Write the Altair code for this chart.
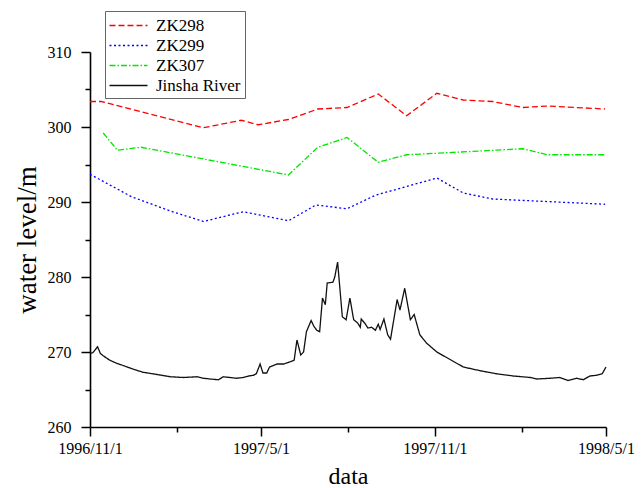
import altair as alt
import pandas as pd

series_names = ["ZK298", "ZK299", "ZK307", "Jinsha River"]
series_colors = ["#ff0000", "#0000ff", "#00e600", "#111111"]
series_dashes = [[6, 3], [2, 2.5], [6, 2, 1.5, 2], [1, 0]]

zk298_dates = ["1996-11-01", "1996-11-13", "1997-03-01", "1997-04-10", "1997-04-28",
               "1997-05-30", "1997-06-30", "1997-07-31", "1997-09-02", "1997-10-02",
               "1997-11-03", "1997-12-01", "1998-01-01", "1998-02-02", "1998-02-28",
               "1998-04-30"]
zk298_level = [303.4, 303.4, 299.9, 300.9, 300.3, 301.0, 302.4, 302.6, 304.4, 301.5,
               304.5, 303.6, 303.4, 302.6, 302.8, 302.4]

zk299_dates = ["1996-11-01", "1996-12-15", "1997-01-25", "1997-03-01", "1997-04-12",
               "1997-05-30", "1997-06-28", "1997-07-31", "1997-08-30", "1997-11-03",
               "1997-12-01", "1998-01-01", "1998-04-30"]
zk299_level = [293.7, 290.7, 288.8, 287.4, 288.7, 287.5, 289.6, 289.1, 290.9, 293.2,
               291.2, 290.4, 289.7]

zk307_dates = ["1996-11-15", "1996-11-30", "1996-12-25", "1997-05-30", "1997-06-30",
               "1997-07-31", "1997-09-02", "1997-10-02", "1997-11-03", "1998-02-02",
               "1998-02-28", "1998-04-30"]
zk307_level = [299.2, 296.9, 297.3, 293.6, 297.3, 298.6, 295.3, 296.3, 296.5, 297.1,
               296.3, 296.3]

# Jinsha River: days after 1996-11-01 and water level
jinsha_day = [0, 3, 8, 11, 14, 21, 28, 35, 46, 56, 71, 85, 99, 113, 120, 127, 136, 141,
              148, 155, 162, 168, 173, 176, 180, 183, 187, 190, 198, 205, 212, 216, 219,
              223, 226, 229, 234, 237, 240, 243, 246, 249, 251, 257, 259, 262, 267, 271,
              275, 279, 283, 286, 287, 291, 294, 298, 302, 305, 307, 311, 315, 318, 325,
              328, 333, 339, 343, 349, 356, 367, 381, 395, 413, 430, 448, 466, 473, 487,
              497, 506, 515, 522, 529, 536, 542, 546]
jinsha_level = [269.8, 269.9, 270.7, 269.8, 269.5, 268.9, 268.5, 268.2, 267.7, 267.3,
                267.0, 266.7, 266.6, 266.7, 266.5, 266.4, 266.3, 266.7, 266.6, 266.5,
                266.6, 266.8, 266.9, 267.1, 268.4, 267.2, 267.2, 268.0, 268.4, 268.4,
                268.7, 268.9, 271.6, 269.6, 270.0, 272.7, 274.2, 273.4, 272.9, 272.7,
                277.2, 276.3, 279.2, 279.3, 280.0, 282.0, 274.7, 274.3, 277.2, 274.3,
                273.9, 273.3, 274.4, 273.8, 273.2, 273.3, 272.9, 273.7, 273.0, 274.4,
                272.3, 271.7, 277.0, 275.6, 278.5, 274.3, 275.0, 272.3, 271.2, 270.0,
                269.0, 268.0, 267.5, 267.1, 266.8, 266.6, 266.4, 266.5, 266.6, 266.2,
                266.5, 266.3, 266.8, 266.9, 267.1, 268.0]

start = pd.Timestamp("1996-11-01")
frames = [
    pd.DataFrame({"series": "ZK298", "date": pd.to_datetime(zk298_dates), "level": zk298_level}),
    pd.DataFrame({"series": "ZK299", "date": pd.to_datetime(zk299_dates), "level": zk299_level}),
    pd.DataFrame({"series": "ZK307", "date": pd.to_datetime(zk307_dates), "level": zk307_level}),
    pd.DataFrame({"series": "Jinsha River",
                  "date": start + pd.to_timedelta(jinsha_day, unit="D"),
                  "level": jinsha_level}),
]
df = pd.concat(frames, ignore_index=True)

FONT = "Liberation Serif"

x_ticks = [alt.DateTime(year=y, month=m, date=1) for (y, m) in
           [(1996, 11), (1997, 2), (1997, 5), (1997, 8), (1997, 11), (1998, 2), (1998, 5)]]
y_ticks = list(range(260, 311, 5))

legend_cfg = dict(
    orient="none", legendX=15, legendY=-41, title=None,
    strokeColor="#666666", fillColor="white", padding=4,
    labelFont=FONT, labelFontSize=17, labelColor="black",
    symbolType="M-2,0H2", symbolSize=361, symbolStrokeWidth=1.3,
    symbolOffset=9, labelOffset=17, rowPadding=1,
)

chart = alt.Chart(df).mark_line(strokeWidth=1.3).encode(
    x=alt.X("date:T",
            scale=alt.Scale(domain=[x_ticks[0], x_ticks[-1]], nice=False),
            axis=alt.Axis(values=x_ticks,
                          labelExpr="month(datum.value) % 6 == 4 ? timeFormat(datum.value, '%Y/%-m/%-d') : ''",
                          tickSize={"condition": {"test": "month(datum.value) % 6 == 4", "value": 9}, "value": 5},
                          labelPadding=4, titlePadding=8, labelOverlap=False, labelFlush=False),
            title="data"),
    y=alt.Y("level:Q",
            scale=alt.Scale(domain=[260, 310], nice=False, zero=False),
            axis=alt.Axis(values=y_ticks,
                          labelExpr="datum.value % 10 === 0 ? datum.label : ''",
                          tickSize={"condition": {"test": "datum.value % 10 === 0", "value": 9}, "value": 5},
                          labelPadding=10, titlePadding=6, titleFontSize=27, labelOverlap=False),
            title="water level/m"),
    color=alt.Color("series:N", scale=alt.Scale(domain=series_names, range=series_colors),
                    legend=alt.Legend(**legend_cfg)),
    strokeDash=alt.StrokeDash("series:N", scale=alt.Scale(domain=series_names, range=series_dashes),
                              legend=alt.Legend(**legend_cfg)),
).properties(
    width=516, height=375,
    padding={"left": 90, "top": 52, "right": 38, "bottom": 61},
    autosize=alt.AutoSizeParams(type="none"),
).configure_view(
    stroke=None
).configure_axis(
    grid=False, domainColor="black", domainWidth=1.6, tickColor="black", tickWidth=1.5,
    labelFont=FONT, labelFontSize=16, labelColor="black",
    titleFont=FONT, titleFontSize=24, titleFontWeight="normal", titleColor="black",
)

chart.save("out.html", embed_options={"renderer": "svg", "actions": False})
